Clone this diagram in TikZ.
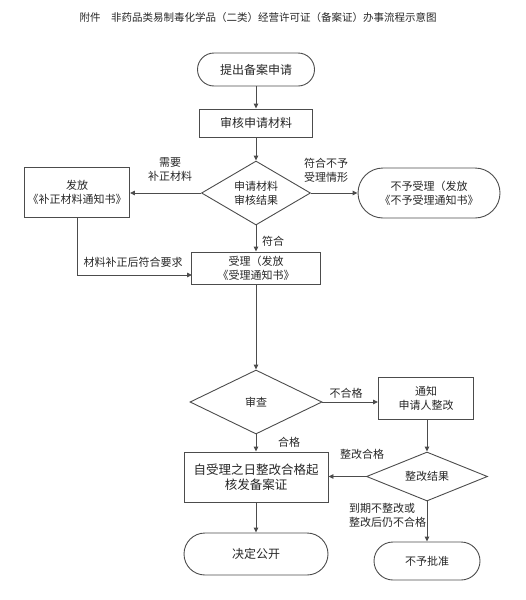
\documentclass[tikz,border=0pt]{standalone}
\usepackage{fontspec}
\setmainfont{Noto Sans CJK SC}
\usetikzlibrary{shapes.geometric,arrows.meta}
\begin{document}
\begin{tikzpicture}[x=1pt,y=-1pt,
  every node/.style={font=\fontsize{11}{14}\selectfont, text=black!85},
  ln/.style={draw=black!70, line width=0.9pt},
  arr/.style={ln, -{Triangle[length=5pt,width=4.5pt]}},
  box/.style={draw=black!70, line width=0.9pt, rectangle, inner sep=0pt, align=center},
  term/.style={box, rounded corners=#1},
  dia/.style={draw=black!70, line width=0.9pt, diamond, inner sep=0pt, align=center},
  lab/.style={inner sep=0pt, align=center}
]
\useasboundingbox (0,0) rectangle (526,600);
\node[lab, font=\fontsize{10.5}{12}\selectfont] (title) at (258,18) {附件\quad 非药品类易制毒化学品（二类）经营许可证（备案证）办事流程示意图};

\node[term=16.5pt, minimum width=117pt, minimum height=33pt, font=\fontsize{12}{14}\selectfont] (start) at (256,69.5) {提出备案申请};
\node[box, minimum width=113pt, minimum height=28pt, font=\fontsize{12}{14}\selectfont] (check) at (256,123) {审核申请材料};
\node[dia, minimum width=109pt, minimum height=64pt, aspect=1.7] (d1) at (256,193) {申请材料\\审核结果};
\node[box, minimum width=105pt, minimum height=50pt] (notice) at (77,192) {发放\\《补正材料通知书》};
\node[term=25pt, minimum width=142pt, minimum height=50pt] (reject) at (429,193) {不予受理（发放\\《不予受理通知书》};
\node[box, minimum width=129pt, minimum height=32pt] (accept) at (256,268) {受理（发放\\《受理通知书》};
\node[dia, minimum width=132pt, minimum height=64pt, aspect=2.06] (d2) at (256,402) {审查};
\node[box, minimum width=95pt, minimum height=42pt] (rect) at (426,398) {通知\\申请人整改};
\node[box, minimum width=144pt, minimum height=50pt, font=\fontsize{12.5}{15}\selectfont] (final) at (256,477) {自受理之日整改合格起\\核发备案证};
\node[dia, minimum width=121pt, minimum height=49pt, aspect=2.47] (d3) at (427,476.5) {整改结果};
\node[term=19pt, minimum width=106pt, minimum height=38pt] (deny) at (427,561) {不予批准};
\node[term=21pt, minimum width=144pt, minimum height=42pt, font=\fontsize{12}{14}\selectfont] (publish) at (256,554) {决定公开};

\coordinate (accin) at (192,275);

\draw[arr] (start) -- (check);
\draw[arr] (check) -- (d1);
\draw[arr] (d1.west) -- (notice.east |- d1.west);
\draw[arr] (d1.east) -- (reject.west |- d1.east);
\draw[arr] (d1.south) -- (accept.north);
\draw[arr] (notice.south) |- (accin);
\draw[arr] (accept.south) -- (d2.north);
\draw[arr] (d2.east) -- (rect.west |- d2.east);
\draw[arr] (d2.south) -- (final.north);
\draw[arr] (rect.south -| d3.north) -- (d3.north);
\draw[arr] (d3.west) -- (final.east |- d3.west);
\draw[arr] (d3.south) -- (deny.north);
\draw[arr] (final.south) -- (publish.north);

\node[lab] (l1) at (170,170) {需要\\补正材料};
\node[lab] (l2) at (326,170) {符合不予\\受理情形};
\node[lab] (l3) at (273,241) {符合};
\node[lab] (l4) at (133,262) {材料补正后符合要求};
\node[lab] (l5) at (346,393) {不合格};
\node[lab] (l6) at (289,442) {合格};
\node[lab] (l7) at (362,454) {整改合格};
\node[lab, align=left, anchor=west] (l8) at (349,515) {到期不整改或\\整改后仍不合格};
\end{tikzpicture}
\end{document}
